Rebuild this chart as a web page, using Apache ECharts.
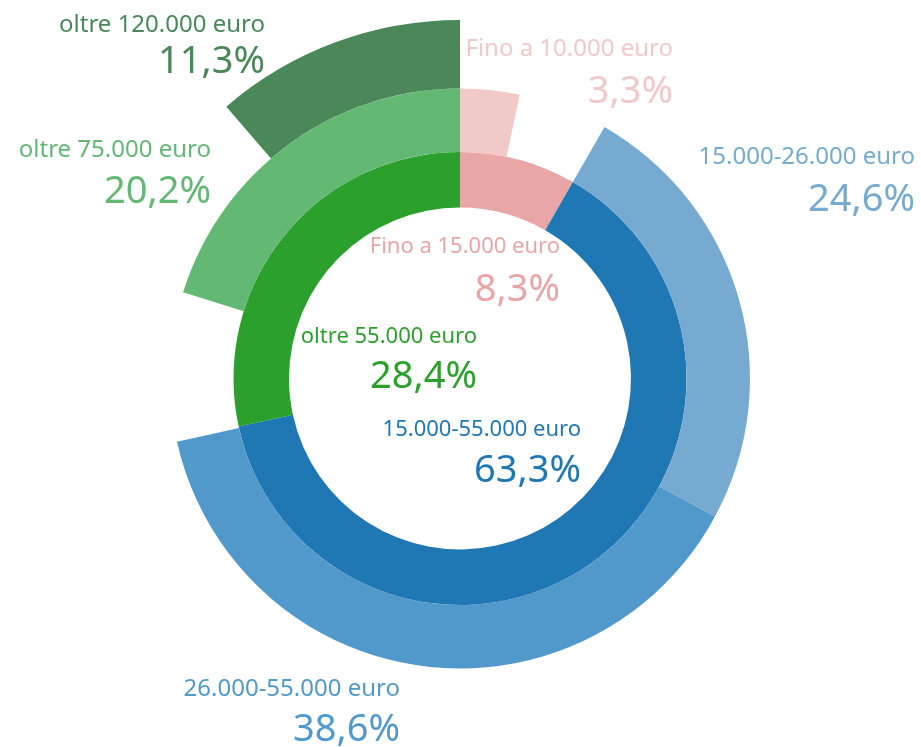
<!DOCTYPE html>
<html>
<head>
<meta charset="utf-8">
<script src="https://cdn.jsdelivr.net/npm/echarts@6/dist/echarts.min.js"></script>
<style>
  html, body { margin: 0; padding: 0; background: #fff; }
  #chart { width: 921px; height: 747px; }
</style>
</head>
<body>
<div id="chart"></div>
<script>
// anello interno
var innerNames = ['Fino a 15.000 euro', '15.000-55.000 euro', 'oltre 55.000 euro'];
var innerValues = [8.3, 63.3, 28.4];
var innerColors = ['#e8a6a6', '#1f77b4', '#2ca02c'];

// anello medio
var midNames = ['Fino a 10.000 euro', '15.000-26.000 euro', '26.000-55.000 euro', 'oltre 75.000 euro'];
var midValues = [3.3, 24.6, 38.6, 20.2];
var midColors = ['#f1c9c9', '#76aad0', '#5299cb', '#63b874'];

// anello esterno
var outerNames = ['oltre 120.000 euro'];
var outerValues = [11.3];
var outerColors = ['#4a8759'];

var chart = echarts.init(document.getElementById('chart'));

function fmt(v) {
  return v.toFixed(1).replace('.', ',') + '%';
}

// spazio vuoto nell'anello
function gap(v) {
  return {
    value: v,
    itemStyle: { color: 'rgba(0,0,0,0)' },
    label: { show: false },
    emphasis: { disabled: true },
    tooltip: { show: false }
  };
}
function item(name, v, color) {
  return { name: name, value: v, itemStyle: { color: color } };
}

var total = innerValues[0] + innerValues[1] + innerValues[2];

var innerData = innerNames.map(function (n, i) { return item(n, innerValues[i], innerColors[i]); });

// figli allineati: il primo all'inizio del padre, l'ultimo alla fine
var midData = [
  item(midNames[0], midValues[0], midColors[0]),
  gap(innerValues[0] - midValues[0]),
  item(midNames[1], midValues[1], midColors[1]),
  item(midNames[2], midValues[2], midColors[2]),
  gap(total - innerValues[0] - midValues[1] - midValues[2] - midValues[3]),
  item(midNames[3], midValues[3], midColors[3])
];

var outerData = [
  gap(total - outerValues[0]),
  item(outerNames[0], outerValues[0], outerColors[0])
];

// posizione etichette: [destra x, centro nome y, centro valore y]
var labelPos = {
  'oltre 120.000 euro': [265, 25, 62],
  'Fino a 10.000 euro': [673, 49, 92],
  '15.000-26.000 euro': [915, 157, 200],
  'oltre 75.000 euro': [211, 150, 192],
  'Fino a 15.000 euro': [560, 247, 290],
  'oltre 55.000 euro': [477, 337, 377],
  '15.000-55.000 euro': [581, 430, 471],
  '26.000-55.000 euro': [400, 689, 730]
};

var labels = [];
function addLabels(names, values, colors, nameSize) {
  names.forEach(function (n, i) {
    var p = labelPos[n];
    labels.push({
      type: 'text', x: p[0], y: p[1],
      style: { text: n, fill: colors[i], font: nameSize + 'px "Noto Sans"', align: 'right', verticalAlign: 'middle' }
    });
    labels.push({
      type: 'text', x: p[0], y: p[2],
      style: { text: fmt(values[i]), fill: colors[i], font: '38px "Noto Sans"', align: 'right', verticalAlign: 'middle' }
    });
  });
}
addLabels(innerNames, innerValues, innerColors, 22);
addLabels(midNames, midValues, midColors, 24);
addLabels(outerNames, outerValues, outerColors, 24);

var common = {
  type: 'pie',
  center: [460, 378.5],
  startAngle: 90,
  clockwise: true,
  avoidLabelOverlap: false,
  silent: true,
  animation: false,
  label: { show: false },
  labelLine: { show: false },
  itemStyle: { borderWidth: 0 }
};

chart.setOption({
  backgroundColor: '#fff',
  graphic: labels,
  series: [
    Object.assign({}, common, { radius: [171, 226.5], data: innerData }),
    Object.assign({}, common, { radius: [226.5, 290], data: midData }),
    Object.assign({}, common, { radius: [290, 358.5], data: outerData })
  ]
});
</script>
</body>
</html>
